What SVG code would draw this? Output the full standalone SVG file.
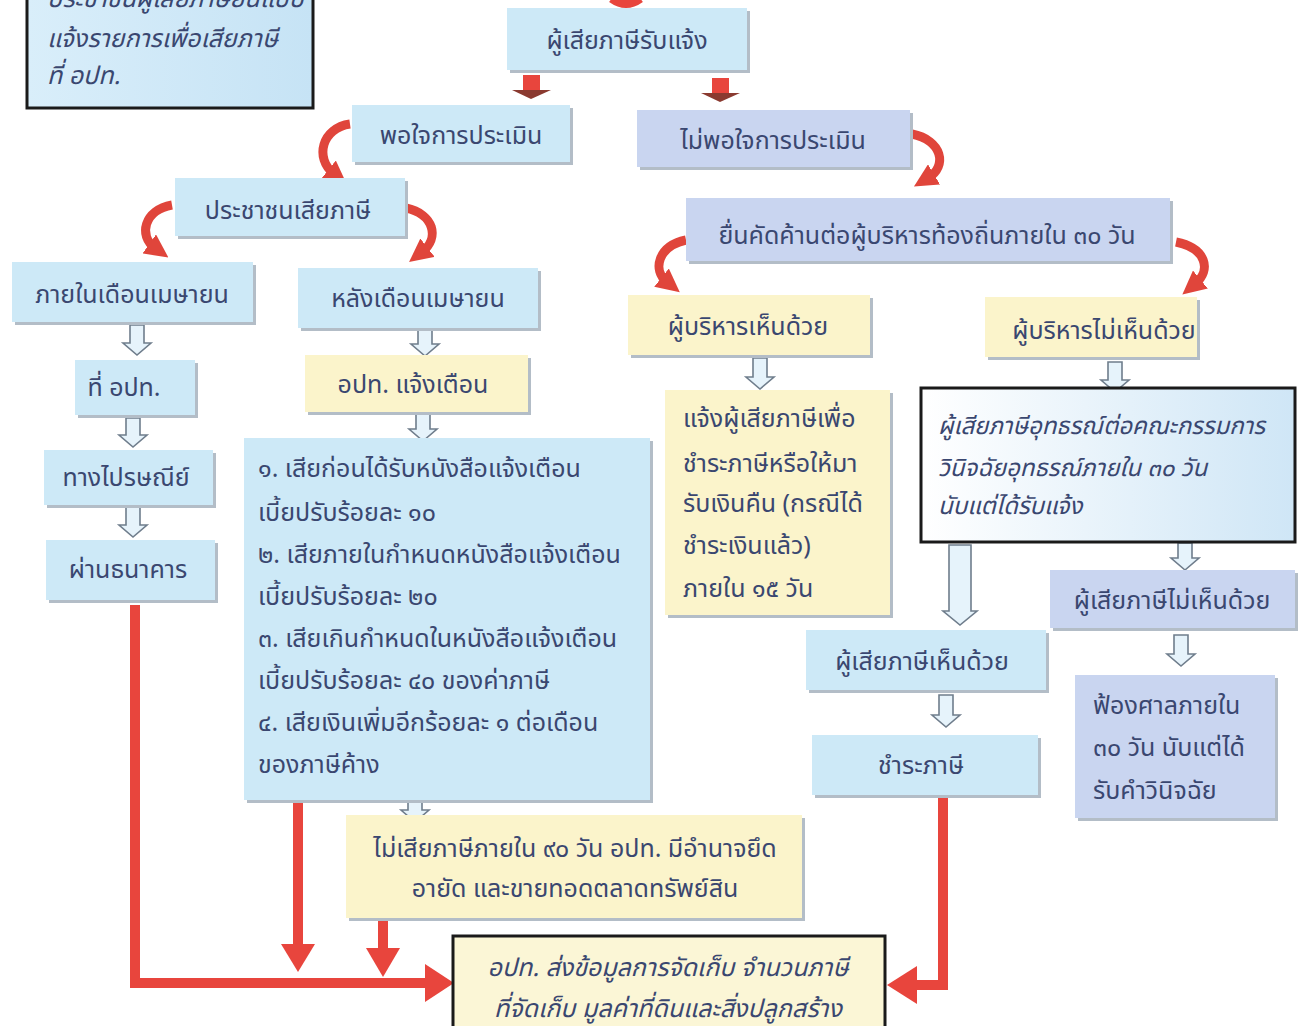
<svg xmlns="http://www.w3.org/2000/svg" width="1304" height="1026" viewBox="0 0 1304 1026">
<defs>
<style>
.b{fill:#cde9f7}
.y{fill:#fbf4cb}
.l{fill:#c9d5f0}
.sh{fill:#b3bdc7}
.t{font-family:"Noto Sans Thai","Noto Sans","DejaVu Sans",sans-serif;font-size:25px;fill:#3a4770}
.c{text-anchor:middle}
.i{font-style:italic}
.s24{font-size:24px}
.red{stroke:#e8453d;stroke-width:10;fill:none}
.redc{stroke:#e0453b;stroke-width:9;fill:none;marker-end:url(#ah)}
.rf{fill:#e8453d}
.ha{fill:#e6f3fb;stroke:#6f7d8c;stroke-width:1.6}
.bk{stroke:#1a1a1a;stroke-width:3}
</style>
<linearGradient id="gb" x1="0" y1="0" x2="1" y2="0">
<stop offset="0" stop-color="#ffffff"/>
<stop offset="1" stop-color="#cfe6f6"/>
</linearGradient>
<linearGradient id="gt" x1="0" y1="0" x2="1" y2="0">
<stop offset="0" stop-color="#d9eefa"/>
<stop offset="1" stop-color="#c6e3f5"/>
</linearGradient>
<marker id="ah" viewBox="0 0 10 10" refX="3" refY="5" markerWidth="2.6" markerHeight="2.6" orient="auto">
<path d="M0,0 L10,5 L0,10 z" fill="#e0453b"/>
</marker>
</defs>
<rect width="1304" height="1026" fill="#ffffff"/>

<g id="connectors">
<path class="red" d="M612,-2 Q626,8 640,-2" stroke-width="7"/>
<g id="block-arrows">
<rect x="523" y="75" width="17" height="15" class="rf"/>
<path d="M512,90 L551,90 L531,99 Z" fill="#8a3a30"/>
<rect x="712" y="78" width="17" height="15" class="rf"/>
<path d="M701,93 L740,93 L720,102 Z" fill="#8a3a30"/>
</g>
<path class="redc" d="M350,124 C322,128 314,158 334,174"/>
<path class="redc" d="M172,205 C144,210 138,236 155,248"/>
<path class="redc" d="M406,208 C434,214 440,238 422,252"/>
<path class="redc" d="M912,134 C942,140 948,166 928,178"/>
<path class="redc" d="M686,240 C658,246 652,270 667,282"/>
<path class="redc" d="M1176,242 C1206,248 1212,270 1195,284"/>

<path class="ha" d="M130,325 H144 V343 H151 L137,355 L123,343 H130 Z"/>
<path class="ha" d="M126,418 H140 V435 H147 L133,447 L119,435 H126 Z"/>
<path class="ha" d="M126,507 H140 V525 H147 L133,537 L119,525 H126 Z"/>
<path class="ha" d="M418,330 H432 V344 H439 L425,356 L411,344 H418 Z"/>
<path class="ha" d="M416,413 H430 V429 H437 L423,441 L409,429 H416 Z"/>
<path class="ha" d="M408,795 H422 V810 H429 L415,822 L401,810 H408 Z"/>
<path class="ha" d="M753,358 H767 V377 H774 L760,389 L746,377 H753 Z"/>
<path class="ha" d="M1108,362 H1122 V380 H1129 L1115,392 L1101,380 H1108 Z"/>
<path class="ha" d="M1178,543 H1192 V558 H1199 L1185,570 L1171,558 H1178 Z"/>
<path class="ha" d="M949,545 H971 V611 H977 L960,625 L943,611 H949 Z"/>
<path class="ha" d="M939,695 H953 V715 H960 L946,727 L932,715 H939 Z"/>
<path class="ha" d="M1174,635 H1188 V654 H1195 L1181,666 L1167,654 H1174 Z"/>

<path class="red" d="M135,605 V983 H428"/>
<polygon class="rf" points="425,964 454,983 425,1002"/>
<path class="red" d="M298,800 V946"/>
<polygon class="rf" points="281,944 315,944 298,972"/>
<path class="red" d="M383,918 V950"/>
<polygon class="rf" points="366,948 400,948 383,977"/>
<path class="red" d="M943,798 V985 H914"/>
<polygon class="rf" points="917,966 887,985 917,1004"/>
</g>

<g id="n0">
<rect x="27" y="-5" width="286" height="113" fill="url(#gt)" class="bk"/>
<text class="t i" x="47" y="7">ประชาชนผู้เสียภาษียื่นแบบ</text>
<text class="t i" x="47" y="47">แจ้งรายการเพื่อเสียภาษี</text>
<text class="t i" x="47" y="84">ที่ อปท.</text>
</g>
<g id="n1">
<rect x="510" y="11" width="240" height="62" class="sh"/>
<rect x="507" y="8" width="240" height="62" class="b"/>
<text class="t c" x="627" y="49">ผู้เสียภาษีรับแจ้ง</text>
</g>
<g id="n2">
<rect x="355" y="108" width="218" height="57" class="sh"/>
<rect x="352" y="105" width="218" height="57" class="b"/>
<text class="t c" x="461" y="144">พอใจการประเมิน</text>
</g>
<g id="n3">
<rect x="640" y="113" width="273" height="57" class="sh"/>
<rect x="637" y="110" width="273" height="57" class="l"/>
<text class="t c" x="773" y="149">ไม่พอใจการประเมิน</text>
</g>
<g id="n4">
<rect x="178" y="181" width="230" height="58" class="sh"/>
<rect x="175" y="178" width="230" height="58" class="b"/>
<text class="t c" x="288" y="219">ประชาชนเสียภาษี</text>
</g>
<g id="n5">
<rect x="689" y="201" width="484" height="63" class="sh"/>
<rect x="686" y="198" width="484" height="63" class="l"/>
<text class="t c" x="927" y="244">ยื่นคัดค้านต่อผู้บริหารท้องถิ่นภายใน ๓๐ วัน</text>
</g>
<g id="n6">
<rect x="15" y="265" width="241" height="60" class="sh"/>
<rect x="12" y="262" width="241" height="60" class="b"/>
<text class="t c" x="132" y="303">ภายในเดือนเมษายน</text>
</g>
<g id="n7">
<rect x="301" y="271" width="240" height="60" class="sh"/>
<rect x="298" y="268" width="240" height="60" class="b"/>
<text class="t c" x="418" y="307">หลังเดือนเมษายน</text>
</g>
<g id="n8">
<rect x="631" y="298" width="242" height="60" class="sh"/>
<rect x="628" y="295" width="242" height="60" class="y"/>
<text class="t c" x="748" y="335">ผู้บริหารเห็นด้วย</text>
</g>
<g id="n9">
<rect x="988" y="300" width="212" height="60" class="sh"/>
<rect x="985" y="297" width="212" height="60" class="y"/>
<text class="t c" x="1104" y="339">ผู้บริหารไม่เห็นด้วย</text>
</g>
<g id="n10">
<rect x="78" y="363" width="120" height="55" class="sh"/>
<rect x="75" y="360" width="120" height="55" class="b"/>
<text class="t c" x="124" y="396">ที่ อปท.</text>
</g>
<g id="n11">
<rect x="308" y="358" width="223" height="57" class="sh"/>
<rect x="305" y="355" width="223" height="57" class="y"/>
<text class="t c" x="413" y="393">อปท. แจ้งเตือน</text>
</g>
<g id="n12">
<rect x="47" y="453" width="169" height="55" class="sh"/>
<rect x="44" y="450" width="169" height="55" class="b"/>
<text class="t c" x="126" y="486">ทางไปรษณีย์</text>
</g>
<g id="n13">
<rect x="247" y="441" width="406" height="362" class="sh"/>
<rect x="244" y="438" width="406" height="362" class="b"/>
<text class="t" x="258" y="477">๑. เสียก่อนได้รับหนังสือแจ้งเตือน</text>
<text class="t" x="258" y="521">เบี้ยปรับร้อยละ ๑๐</text>
<text class="t" x="258" y="563">๒. เสียภายในกำหนดหนังสือแจ้งเตือน</text>
<text class="t" x="258" y="605">เบี้ยปรับร้อยละ ๒๐</text>
<text class="t" x="258" y="647">๓. เสียเกินกำหนดในหนังสือแจ้งเตือน</text>
<text class="t" x="258" y="689">เบี้ยปรับร้อยละ ๔๐ ของค่าภาษี</text>
<text class="t" x="258" y="731">๔. เสียเงินเพิ่มอีกร้อยละ ๑ ต่อเดือน</text>
<text class="t" x="258" y="773">ของภาษีค้าง</text>
</g>
<g id="n14">
<rect x="668" y="393" width="225" height="225" class="sh"/>
<rect x="665" y="390" width="225" height="225" class="y"/>
<text class="t" x="683" y="427">แจ้งผู้เสียภาษีเพื่อ</text>
<text class="t" x="683" y="472">ชำระภาษีหรือให้มา</text>
<text class="t" x="683" y="512">รับเงินคืน (กรณีได้</text>
<text class="t" x="683" y="554">ชำระเงินแล้ว)</text>
<text class="t" x="683" y="597">ภายใน ๑๕ วัน</text>
</g>
<g id="n15">
<rect x="921" y="388" width="374" height="154" fill="url(#gb)" class="bk"/>
<text class="t i s24" x="938" y="434">ผู้เสียภาษีอุทธรณ์ต่อคณะกรรมการ</text>
<text class="t i s24" x="938" y="476">วินิจฉัยอุทธรณ์ภายใน ๓๐ วัน</text>
<text class="t i s24" x="938" y="514">นับแต่ได้รับแจ้ง</text>
</g>
<g id="n16">
<rect x="49" y="543" width="169" height="60" class="sh"/>
<rect x="46" y="540" width="169" height="60" class="b"/>
<text class="t c" x="128" y="578">ผ่านธนาคาร</text>
</g>
<g id="n17">
<rect x="1053" y="573" width="245" height="58" class="sh"/>
<rect x="1050" y="570" width="245" height="58" class="l"/>
<text class="t c" x="1172" y="609">ผู้เสียภาษีไม่เห็นด้วย</text>
</g>
<g id="n18">
<rect x="809" y="633" width="240" height="60" class="sh"/>
<rect x="806" y="630" width="240" height="60" class="b"/>
<text class="t c" x="922" y="670">ผู้เสียภาษีเห็นด้วย</text>
</g>
<g id="n19">
<rect x="1078" y="678" width="200" height="143" class="sh"/>
<rect x="1075" y="675" width="200" height="143" class="l"/>
<text class="t" x="1093" y="714">ฟ้องศาลภายใน</text>
<text class="t" x="1093" y="756">๓๐ วัน นับแต่ได้</text>
<text class="t" x="1093" y="799">รับคำวินิจฉัย</text>
</g>
<g id="n20">
<rect x="815" y="738" width="226" height="60" class="sh"/>
<rect x="812" y="735" width="226" height="60" class="b"/>
<text class="t c" x="921" y="774">ชำระภาษี</text>
</g>
<g id="n21">
<rect x="349" y="818" width="456" height="103" class="sh"/>
<rect x="346" y="815" width="456" height="103" class="y"/>
<text class="t c" x="575" y="857">ไม่เสียภาษีภายใน ๙๐ วัน อปท. มีอำนาจยึด</text>
<text class="t c" x="575" y="897">อายัด และขายทอดตลาดทรัพย์สิน</text>
</g>
<g id="n22">
<rect x="453" y="936" width="432" height="100" fill="#fbf6d6" class="bk"/>
<text class="t i c" x="668" y="976">อปท. ส่งข้อมูลการจัดเก็บ จำนวนภาษี</text>
<text class="t i c" x="668" y="1017">ที่จัดเก็บ มูลค่าที่ดินและสิ่งปลูกสร้าง</text>
</g>
</svg>
